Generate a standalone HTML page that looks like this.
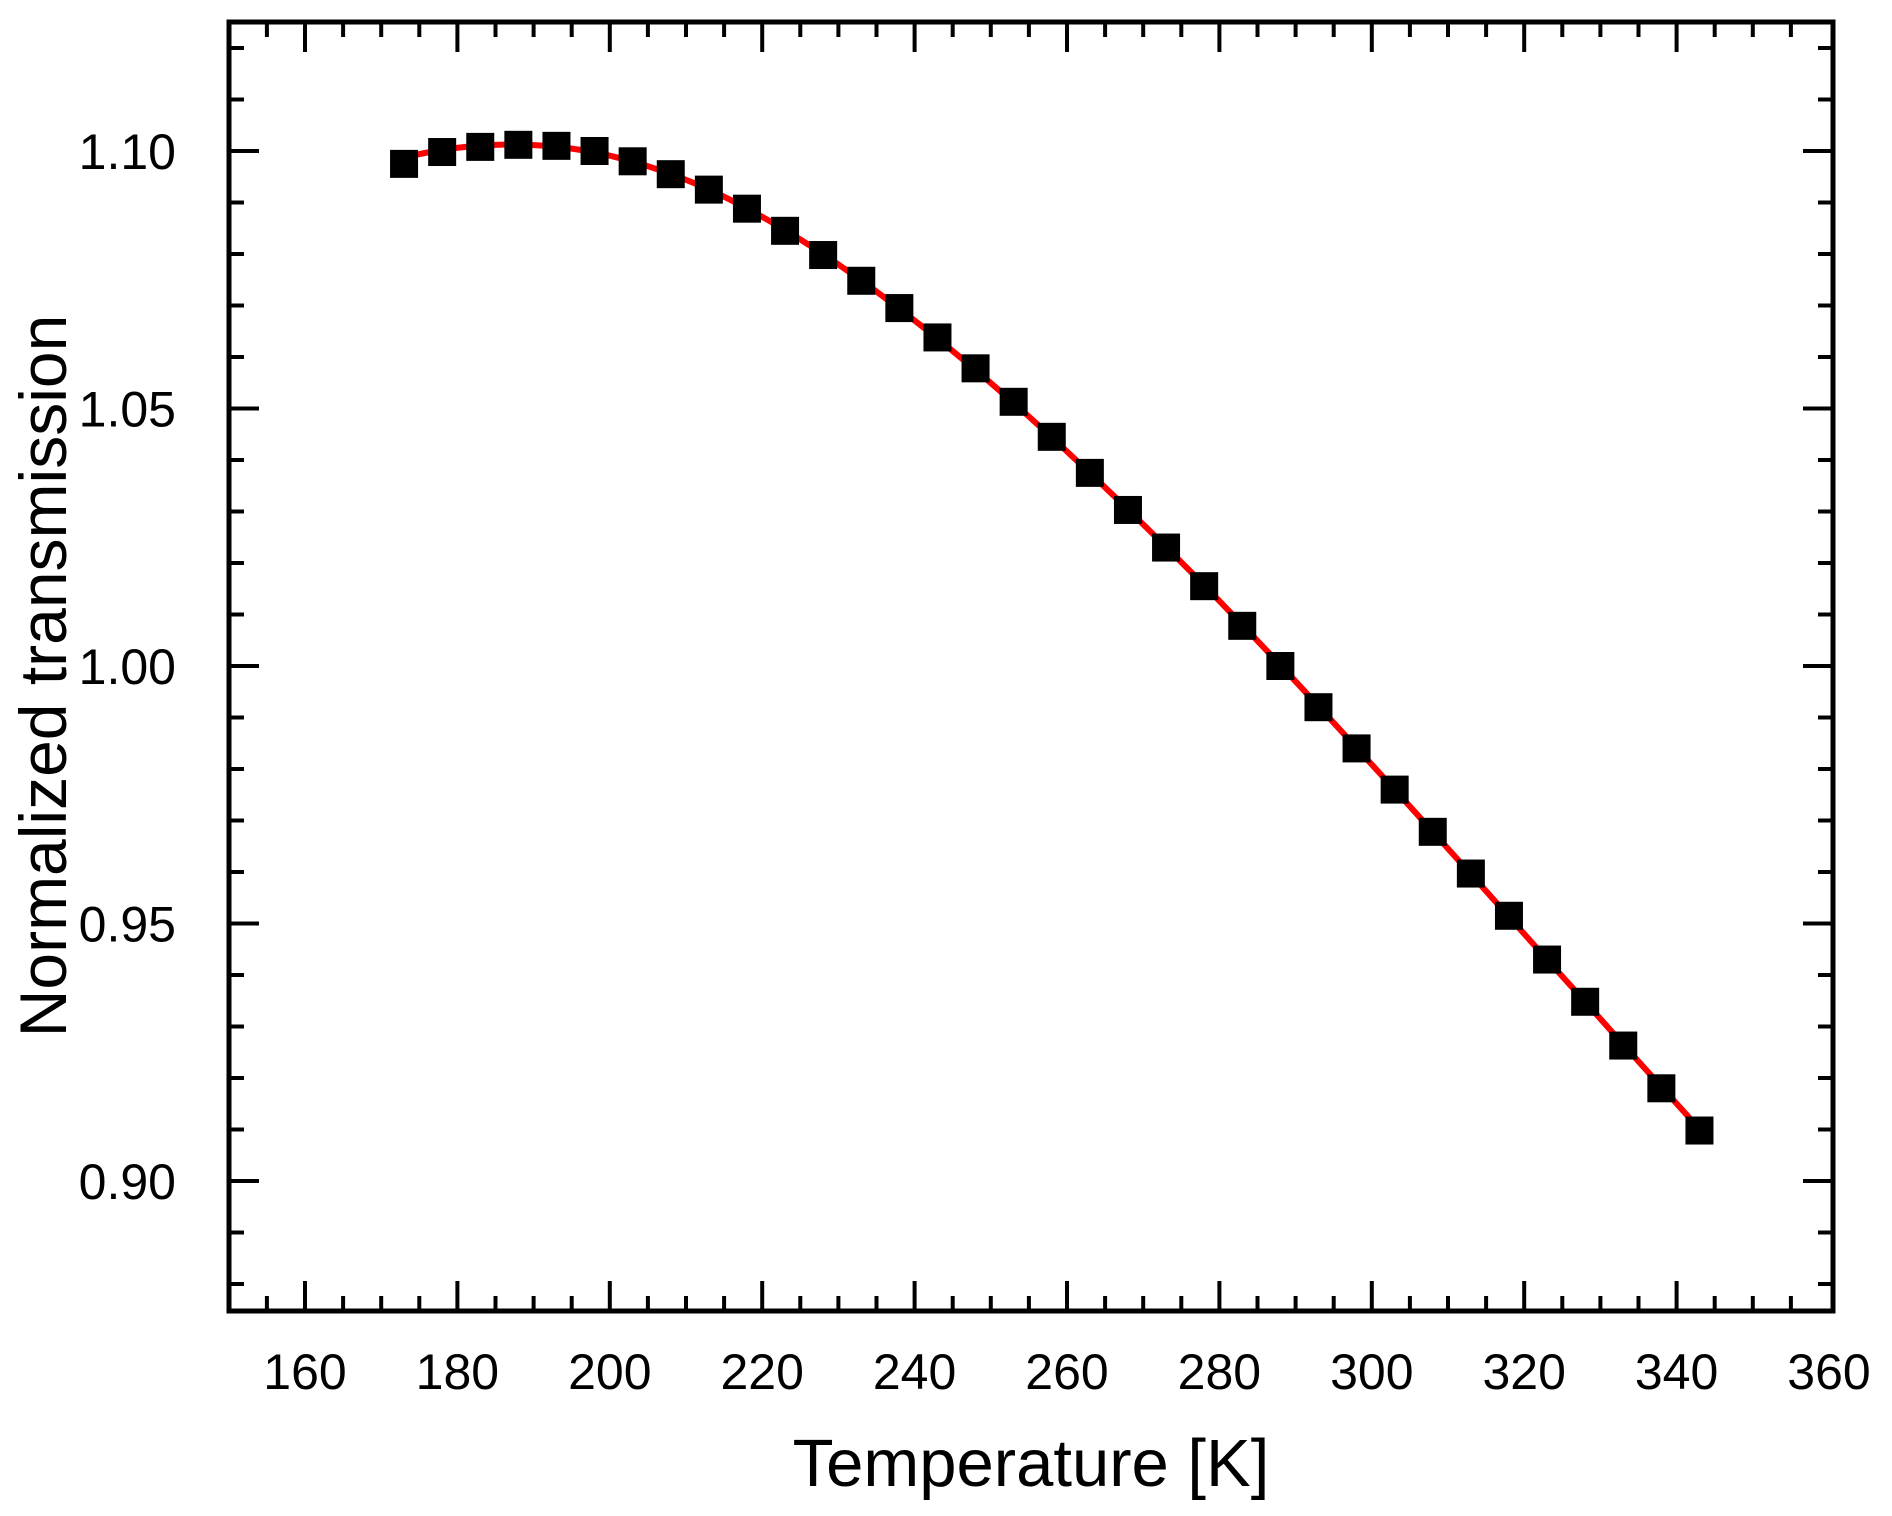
<!DOCTYPE html>
<html><head><meta charset="utf-8"><style>
html,body{margin:0;padding:0;background:#fff;}
svg{display:block;font-family:"Liberation Sans",Arial,sans-serif;}
</style></head><body>
<svg id="chart" width="1892" height="1516" viewBox="0 0 1892 1516" xmlns="http://www.w3.org/2000/svg">
<g id="ticks"></g>
<g id="labels"></g>
<path id="fit" fill="none" stroke="#ff0000" stroke-width="6"/>
<g id="pts"></g>
<rect x="229" y="22" width="1604" height="1289" fill="none" stroke="#000" stroke-width="5"/>
<text x="1031" y="1486" font-size="67" text-anchor="middle">Temperature [K]</text>
<text transform="translate(66,676) rotate(-90)" font-size="66" text-anchor="middle">Normalized transmission</text>
</svg>
<script>
const temps=[173,178,183,188,193,198,203,208,213,218,223,228,233,238,243,248,253,258,263,268,273,278,283,288,293,298,303,308,313,318,323,328,333,338,343];
const trans=[1.0975,1.0998,1.1008,1.1012,1.1010,1.1000,1.0980,1.0955,1.0925,1.0888,1.0845,1.0798,1.0748,1.0695,1.0638,1.0578,1.0513,1.0445,1.0375,1.0303,1.0230,1.0155,1.0078,1.0000,0.9920,0.9840,0.9760,0.9678,0.9597,0.9515,0.9430,0.9348,0.9263,0.9180,0.9098];
const fitY=[1.0988,1.1003,1.1011,1.1013,1.1009,1.0998,1.0980,1.0956,1.0926,1.0889,1.0847,1.0800,1.0749,1.0694,1.0636,1.0575,1.0511,1.0444,1.0375,1.0304,1.0231,1.0157,1.0080,1.0002,0.9922,0.9841,0.9760,0.9678,0.9596,0.9513,0.9430,0.9348,0.9265,0.9183,0.9101];
const xTicks=[160,180,200,220,240,260,280,300,320,340,360];
const yTicks=[0.90,0.95,1.00,1.05,1.10];
const yTickLabels=["0.90","0.95","1.00","1.05","1.10"];
const X=v=>305+(v-160)*152.4/20;
const Y=v=>1181-(v-0.90)*5150;
const NS="http://www.w3.org/2000/svg";
const tk=document.getElementById('ticks'),lb=document.getElementById('labels'),pts=document.getElementById('pts');
function line(x1,y1,x2,y2){const l=document.createElementNS(NS,'line');l.setAttribute('x1',x1);l.setAttribute('y1',y1);l.setAttribute('x2',x2);l.setAttribute('y2',y2);l.setAttribute('stroke','#000');l.setAttribute('stroke-width','4');


tk.appendChild(l);}
for(let v=155;v<=355;v+=5){const x=X(v);const L=(v%20===0)?30:15;line(x,1311,x,1311-L);line(x,22,x,22+L);}
for(let k=0;k<=25;k++){const v=0.88+k*0.01;const y=Y(v);if(y<26||y>1306)continue;const L=(k%5===2)?30:15;line(229,y,229+L,y);line(1833,y,1833-L,y);}
xTicks.forEach(v=>{const t=document.createElementNS(NS,'text');t.setAttribute('x',X(v));t.setAttribute('y',1389);t.setAttribute('font-size','50');t.setAttribute('text-anchor','middle');t.textContent=v;


lb.appendChild(t);});
yTicks.forEach((v,i)=>{const t=document.createElementNS(NS,'text');t.setAttribute('x',176);t.setAttribute('y',Y(v)+18);t.setAttribute('font-size','50');t.setAttribute('text-anchor','end');t.textContent=yTickLabels[i];


lb.appendChild(t);});
temps.forEach((v,i)=>{const r=document.createElementNS(NS,'rect');r.setAttribute('x',X(v)-14);r.setAttribute('y',Y(trans[i])-14);r.setAttribute('width',28);r.setAttribute('height',28);r.setAttribute('fill','#000');


pts.appendChild(r);});
document.getElementById('fit').setAttribute('d',temps.map((v,i)=>(i?'L':'M')+X(v).toFixed(1)+','+Y(fitY[i]).toFixed(1)).join(' '));
</script>
</body></html>
